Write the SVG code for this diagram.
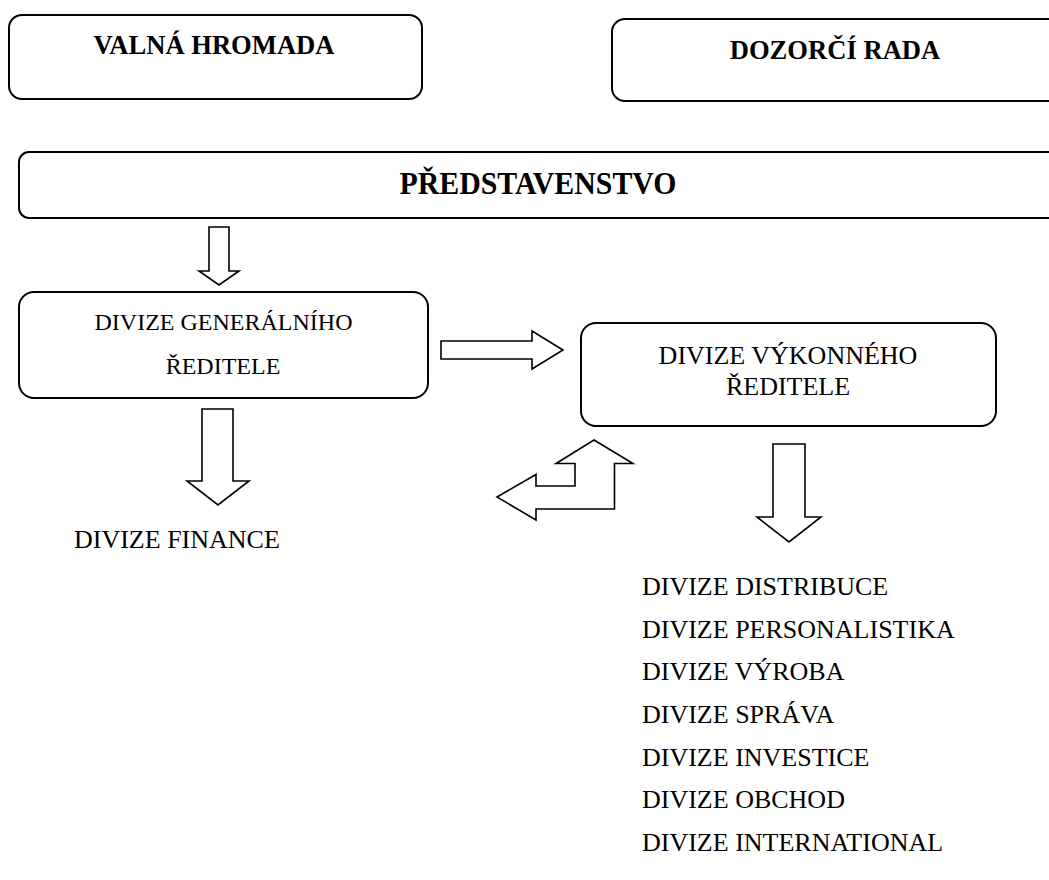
<svg xmlns="http://www.w3.org/2000/svg" width="1049" height="880" viewBox="0 0 1049 880">
<style>
.box{fill:#fff;stroke:#000;stroke-width:2}
.arr{fill:#fff;stroke:#000;stroke-width:1.6;stroke-linejoin:miter}
.t{font-family:"Liberation Serif","Times New Roman",serif;fill:#000}
.b{font-weight:bold;font-size:26.6px}
.r{font-size:26px}
.m{text-anchor:middle}
</style>
<rect width="1049" height="880" fill="#fff"/>
<g id="valna-hromada">
<rect class="box" x="9" y="15" width="413" height="84" rx="13"/>
<text class="t b m" x="214" y="54">VALNÁ HROMADA</text>
</g>
<g id="dozorci-rada">
<rect class="box" x="612" y="19" width="450" height="82" rx="13"/>
<text class="t b m" x="835" y="59">DOZORČÍ RADA</text>
</g>
<g id="predstavenstvo">
<rect class="box" x="19" y="152" width="1045" height="66" rx="10"/>
<text class="t m" x="538" y="194" font-weight="bold" font-size="31" textLength="277" lengthAdjust="spacingAndGlyphs">PŘEDSTAVENSTVO</text>
</g>
<g id="divize-generalniho">
<rect class="box" x="19" y="292" width="409" height="106" rx="15"/>
<text class="t m" x="223.5" y="330" font-size="24">DIVIZE GENERÁLNÍHO</text>
<text class="t m" x="223" y="374" font-size="24">ŘEDITELE</text>
</g>
<g id="divize-vykonneho">
<rect class="box" x="581" y="323" width="415" height="103" rx="15"/>
<text class="t r m" x="788" y="364">DIVIZE VÝKONNÉHO</text>
<text class="t r m" x="788" y="395">ŘEDITELE</text>
</g>
<g id="divize-finance">
<text class="t r" x="74" y="548">DIVIZE FINANCE</text>
</g>
<g id="divize-list">
<text class="t r" x="642" y="595">DIVIZE DISTRIBUCE</text>
<text class="t r" x="642" y="637.7">DIVIZE PERSONALISTIKA</text>
<text class="t r" x="642" y="680.3">DIVIZE VÝROBA</text>
<text class="t r" x="642" y="723">DIVIZE SPRÁVA</text>
<text class="t r" x="642" y="765.7">DIVIZE INVESTICE</text>
<text class="t r" x="642" y="808.3">DIVIZE OBCHOD</text>
<text class="t r" x="642" y="851">DIVIZE INTERNATIONAL</text>
</g>
<g id="connectors">
<polygon class="arr" points="209,227 229,227 229,271 239,271 219,285 199,271 209,271"/>
<polygon class="arr" points="441,341 532,341 532,331 563,350 532,369 532,359 441,359"/>
<polygon class="arr" points="202,409 233,409 233,481 249,481 218,505 187,481 202,481"/>
<polygon class="arr" points="773,444 805,444 805,517 821,517 789,542 757,517 773,517"/>
<polygon class="arr" points="594,440 633,463.5 614.5,463.5 614.5,509 536,509 536,520 497,497 536,474.5 536,486 575,486 575,463.5 556,463.5"/>
</g>
</svg>
